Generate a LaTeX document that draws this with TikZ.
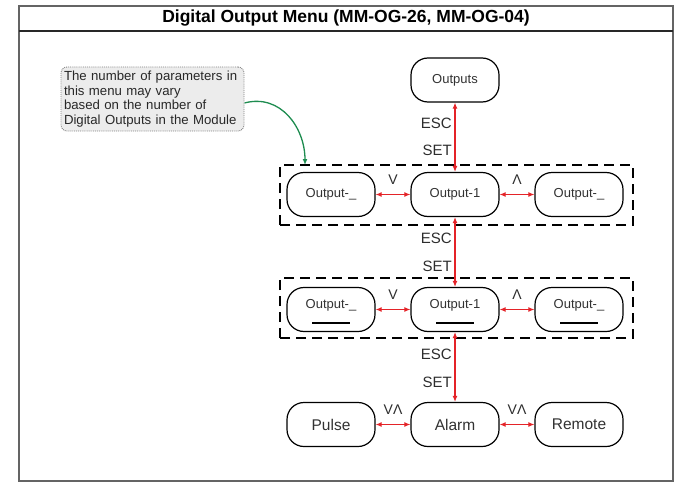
\documentclass[tikz,border=0pt]{standalone}
\usepackage{fontspec}
\setmainfont{Liberation Sans}
\usepackage{tikz}
\usetikzlibrary{arrows.meta}
\pgfdeclarelayer{edgelayer}
\pgfdeclarelayer{nodelayer}
\pgfsetlayers{edgelayer,nodelayer,main}
\tikzstyle{none} = []
\tikzstyle{Title}=[font=\bfseries\fontsize{17.5}{21}\selectfont, text=black]
\tikzstyle{Note}=[draw={rgb,255: red,130; green,130; blue,130}, densely dotted, line width=0.9pt, fill={rgb,255: red,236; green,236; blue,236}, rounded corners=6pt, minimum width=183pt, minimum height=64pt, text width=177pt, align=left, inner sep=3pt, font=\fontsize{13.2}{14.5}\selectfont, text={rgb,255: red,40; green,40; blue,40}]
\tikzstyle{Menu Item}=[draw=black, fill=white, line width=1.2pt, rounded corners=17pt, minimum width=88pt, minimum height=44pt, inner sep=0pt, font=\fontsize{13}{15}\selectfont, text={rgb,255: red,50; green,50; blue,50}]
\tikzstyle{Field Item}=[style=Menu Item, text height=9.5pt, text depth=12pt]
\tikzstyle{Big Item}=[style=Menu Item, font=\fontsize{15.5}{18}\selectfont]
\tikzstyle{Key Label}=[anchor=east, inner sep=0pt, font=\fontsize{15}{18}\selectfont, text={rgb,255: red,45; green,45; blue,45}]
\tikzstyle{Move Label}=[inner sep=0pt, font=\fontsize{14}{16}\selectfont, text={rgb,255: red,45; green,45; blue,45}]
\tikzstyle{Red Arrow}=[{Latex[length=6pt,width=5pt]}-{Latex[length=6pt,width=5pt]}, draw={rgb,255: red,228; green,35; blue,40}, line width=1.1pt]
\tikzstyle{Green Arrow}=[-{Latex[length=6pt,width=5pt]}, draw={rgb,255: red,30; green,140; blue,80}, line width=1.3pt]
\tikzstyle{Dashed Box}=[-, draw=black, line width=2.2pt, dash pattern=on 10pt off 6pt]
\tikzstyle{Frame}=[-, draw={rgb,255: red,100; green,100; blue,100}, line width=1.5pt]
\tikzstyle{Header Line}=[-, draw={rgb,255: red,40; green,40; blue,40}, line width=1.8pt]
\tikzstyle{Underline}=[-, draw=black, line width=1.6pt]

\begin{document}
\begin{tikzpicture}[x=1pt, y=1pt]
	\useasboundingbox (0, 0) rectangle (679, 483);
	\begin{pgfonlayer}{nodelayer}
		\node [style=Title] (0) at (346, 464.5) {Digital Output Menu (MM-OG-26, MM-OG-04)};
		\node [style=Note] (1) at (152.5, 384) {The number of parameters in\\this menu may vary\\based on the number of\\Digital Outputs in the Module};
		\node [style=Menu Item] (2) at (455, 403) {Outputs};
		\node [style=Menu Item] (3) at (331, 288.5) {Output-\_};
		\node [style=Menu Item] (4) at (455, 288.5) {Output-1};
		\node [style=Menu Item] (5) at (579, 288.5) {Output-\_};
		\node [style=Field Item] (6) at (331, 173.5) {Output-\_};
		\node [style=Field Item] (7) at (455, 173.5) {Output-1};
		\node [style=Field Item] (8) at (579, 173.5) {Output-\_};
		\node [style=Big Item] (9) at (331, 58.5) {Pulse};
		\node [style=Big Item] (10) at (455, 58.5) {Alarm};
		\node [style=Big Item] (11) at (579, 58.5) {Remote};
		\node [style=Key Label] (12) at (452, 360) {ESC};
		\node [style=Key Label] (13) at (452, 333) {SET};
		\node [style=Key Label] (14) at (452, 245) {ESC};
		\node [style=Key Label] (15) at (452, 217) {SET};
		\node [style=Key Label] (16) at (452, 129) {ESC};
		\node [style=Key Label] (17) at (452, 101) {SET};
		\node [style=Move Label] (18) at (393, 303) {V};
		\node [style=Move Label] (19) at (517, 303) {Λ};
		\node [style=Move Label] (20) at (393, 188) {V};
		\node [style=Move Label] (21) at (517, 188) {Λ};
		\node [style=Move Label] (22) at (393, 73) {VΛ};
		\node [style=Move Label] (23) at (517, 73) {VΛ};
		\node [style=none] (24) at (305, 318) {};
	\end{pgfonlayer}
	\begin{pgfonlayer}{edgelayer}
		\draw [style=Frame] (19, 2) rectangle (673, 477);
		\draw [style=Header Line] (19, 452) to (673, 452);
		\draw [style=Dashed Box] (280, 258) rectangle (633, 318);
		\draw [style=Dashed Box] (280, 145) rectangle (633, 205);
		\draw [style=Red Arrow] (2) to (4);
		\draw [style=Red Arrow] (3) to (4);
		\draw [style=Red Arrow] (4) to (5);
		\draw [style=Red Arrow] (4) to (7);
		\draw [style=Red Arrow] (6) to (7);
		\draw [style=Red Arrow] (7) to (8);
		\draw [style=Red Arrow] (7) to (10);
		\draw [style=Red Arrow] (9) to (10);
		\draw [style=Red Arrow] (10) to (11);
		\draw [style=Green Arrow, out=15, in=90, looseness=1.1] ([yshift=-4pt]1.east) to (24.center);
	\end{pgfonlayer}
	\draw [style=Underline] ([xshift=-19pt, yshift=-13.5pt]6.center) to ([xshift=19pt, yshift=-13.5pt]6.center);
	\draw [style=Underline] ([xshift=-19pt, yshift=-13.5pt]7.center) to ([xshift=19pt, yshift=-13.5pt]7.center);
	\draw [style=Underline] ([xshift=-19pt, yshift=-13.5pt]8.center) to ([xshift=19pt, yshift=-13.5pt]8.center);
\end{tikzpicture}
\end{document}
